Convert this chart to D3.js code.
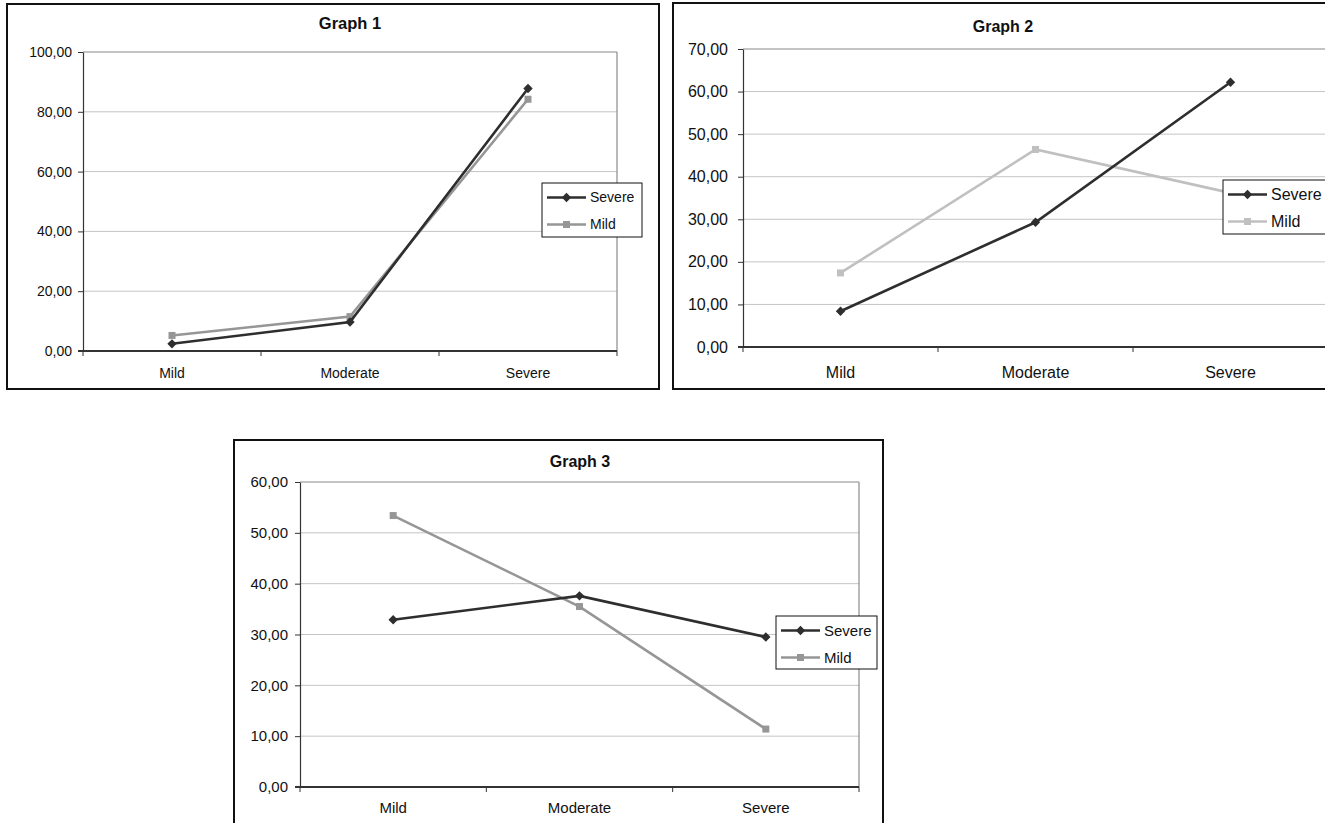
<!DOCTYPE html>
<html><head><meta charset="utf-8">
<script src="https://cdn.jsdelivr.net/npm/d3@7"></script>
<style>body{margin:0;background:#fff;overflow:hidden}svg{display:block;font-family:Arial,"Liberation Sans",sans-serif}</style>
</head><body><svg id="c" width="1325" height="823"></svg>
<script>
// ---- data ----
const categories = ["Mild", "Moderate", "Severe"];
const seriesNames = ["Severe", "Mild"];
const titles = ["Graph 1", "Graph 2", "Graph 3"];
const g1Severe = [2.4, 9.7, 87.8];
const g1Mild = [5.2, 11.5, 84.2];
const g2Severe = [8.4, 29.3, 62.2];
const g2Mild = [17.4, 46.4, 36.2];
const g3Severe = [32.9, 37.6, 29.5];
const g3Mild = [53.4, 35.5, 11.4];
const g1Ticks = [0, 20, 40, 60, 80, 100];
const g2Ticks = [0, 10, 20, 30, 40, 50, 60, 70];
const g3Ticks = [0, 10, 20, 30, 40, 50, 60];

// ---- layout / style ----
const charts = [
  {title: titles[0], severe: g1Severe, mild: g1Mild, ticks: g1Ticks,
   box: [7, 4, 652, 385], plot: [83, 52, 617, 351], legend: [542, 183, 100, 54],
   titleX: 350, titleY: 23, font: 14, titleFont: 16.5, labelY: 373, labelGap: 6, mildColor: "#969696"},
  {title: titles[1], severe: g2Severe, mild: g2Mild, ticks: g2Ticks,
   box: [673, 3, 662, 386], plot: [743, 49, 1328, 347], legend: [1223, 180, 112, 54],
   titleX: 1003, titleY: 26, font: 16, titleFont: 16, labelY: 372, labelGap: 10, mildColor: "#c0c0c0"},
  {title: titles[2], severe: g3Severe, mild: g3Mild, ticks: g3Ticks,
   box: [234, 440, 649, 400], plot: [300, 482, 859, 787], legend: [776, 616, 101, 53],
   titleX: 580, titleY: 461, font: 15, titleFont: 16, labelY: 808, labelGap: 7, mildColor: "#969696"}
];
const severeColor = "#2e2e2e";
const fmt = v => d3.format(".2f")(v).replace(".", ",");
const diamond = {draw(ctx, size) {
  const r = Math.sqrt(size / 2);
  ctx.moveTo(0, -r); ctx.lineTo(r, 0); ctx.lineTo(0, r); ctx.lineTo(-r, 0); ctx.closePath();
}};
const svg = d3.select("#c");

charts.forEach(c => {
  const g = svg.append("g");
  const [bx, by, bw, bh] = c.box;
  const [px0, py0, px1, py1] = c.plot;
  g.append("rect").attr("x", bx).attr("y", by).attr("width", bw).attr("height", bh)
    .attr("fill", "#fff").attr("stroke", "#111").attr("stroke-width", 2);

  const x = d3.scaleBand().domain(categories).range([px0, px1]);
  const y = d3.scaleLinear().domain([0, d3.max(c.ticks)]).range([py1, py0]);
  const cx = d => x(d) + x.bandwidth() / 2;

  // gridlines
  g.append("g").selectAll("line").data(c.ticks.filter(t => t > 0 && t < d3.max(c.ticks))).join("line")
    .attr("x1", px0).attr("x2", px1).attr("y1", d => y(d)).attr("y2", d => y(d))
    .attr("stroke", "#c4c4c4").attr("stroke-width", 1);
  // plot frame top / right
  g.append("line").attr("x1", px0).attr("x2", px1).attr("y1", py0).attr("y2", py0)
    .attr("stroke", "#8a8a8a").attr("stroke-width", 1.2);
  g.append("line").attr("x1", px1).attr("x2", px1).attr("y1", py0).attr("y2", py1)
    .attr("stroke", "#8a8a8a").attr("stroke-width", 1.2);

  // y axis
  const ya = g.append("g").attr("transform", `translate(${px0},0)`)
    .call(d3.axisLeft(y).tickValues(c.ticks).tickFormat(fmt).tickSize(5).tickSizeOuter(0).tickPadding(c.labelGap));
  ya.select(".domain").attr("stroke", "#333").attr("stroke-width", 1.2);
  ya.selectAll(".tick line").attr("stroke", "#333");
  ya.selectAll("text").attr("font-size", c.font).attr("fill", "#111")
    .attr("font-family", "Arial, 'Liberation Sans', sans-serif");

  // x axis
  g.append("line").attr("x1", px0 - 5).attr("x2", px1).attr("y1", py1).attr("y2", py1)
    .attr("stroke", "#333").attr("stroke-width", 1.8);
  const bounds = categories.map(d => x(d)).concat([px1]);
  g.append("g").selectAll("line").data(bounds).join("line")
    .attr("x1", d => d).attr("x2", d => d).attr("y1", py1).attr("y2", py1 + 5)
    .attr("stroke", "#333");
  g.append("g").selectAll("text").data(categories).join("text")
    .attr("x", d => cx(d)).attr("y", c.labelY).attr("dy", "0.35em")
    .attr("text-anchor", "middle").attr("font-size", c.font).attr("fill", "#111").text(d => d);

  // title
  g.append("text").attr("x", c.titleX).attr("y", c.titleY).attr("dy", "0.35em")
    .attr("text-anchor", "middle").attr("font-size", c.titleFont).attr("font-weight", "bold")
    .attr("fill", "#111").text(c.title);

  // series
  const line = d3.line().x((d, i) => cx(categories[i])).y(d => y(d));
  const series = [
    {name: seriesNames[0], values: c.severe, color: severeColor, sym: diamond, size: 44},
    {name: seriesNames[1], values: c.mild, color: c.mildColor, sym: d3.symbolSquare, size: 49}
  ];
  series.slice().reverse().forEach(s => {
    g.append("path").datum(s.values).attr("d", line).attr("fill", "none")
      .attr("stroke", s.color).attr("stroke-width", 2.6);
    g.append("g").selectAll("path").data(s.values).join("path")
      .attr("d", d3.symbol(s.sym, s.size))
      .attr("transform", (d, i) => `translate(${cx(categories[i])},${y(d)})`)
      .attr("fill", s.color);
  });

  // legend
  const [lx, ly, lw, lh] = c.legend;
  const lg = g.append("g");
  lg.append("rect").attr("x", lx).attr("y", ly).attr("width", lw).attr("height", lh)
    .attr("fill", "#fff").attr("stroke", "#111").attr("stroke-width", 1);
  series.forEach((s, i) => {
    const yy = ly + 14.5 + i * 27;
    lg.append("line").attr("x1", lx + 5).attr("x2", lx + 44).attr("y1", yy).attr("y2", yy)
      .attr("stroke", s.color).attr("stroke-width", 2.6);
    lg.append("path").attr("d", d3.symbol(s.sym, s.size)).attr("transform", `translate(${lx + 24.5},${yy})`)
      .attr("fill", s.color);
    lg.append("text").attr("x", lx + 48).attr("y", yy).attr("dy", "0.35em")
      .attr("font-size", c.font).attr("fill", "#111").text(s.name);
  });
});
</script></body></html>
